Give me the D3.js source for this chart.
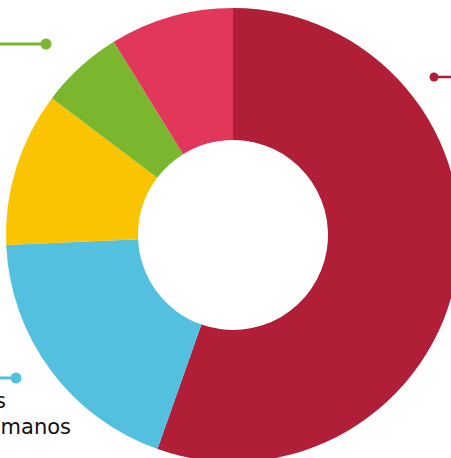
<!DOCTYPE html>
<html>
<head>
<meta charset="utf-8">
<script src="https://cdn.jsdelivr.net/npm/d3@7"></script>
<style>
html,body{margin:0;padding:0;background:#fff;overflow:hidden;}
svg{display:block;}
</style>
</head>
<body>
<svg id="chart" width="451" height="458"></svg>
<script>
const categories = ["Gastos generales", "Recursos humanos", "Inversiones", "Servicios", "Otros"];
const values = [55.4, 18.9, 11.0, 5.9, 8.8];
const colors = ["#B01E37", "#52C0DE", "#FAC400", "#7AB62E", "#E0375A"];

const svg = d3.select("#chart");
const cx = 233, cy = 235, rOuter = 227, rInner = 95;
const g = svg.append("g").attr("transform", `translate(${cx},${cy})`);

const pie = d3.pie().sort(null).value(d => d).startAngle(0).endAngle(2 * Math.PI);
const arcs = pie(values);
const arc = d3.arc().innerRadius(rInner).outerRadius(rOuter);

g.selectAll("path.slice").data(arcs).join("path")
  .attr("class", "slice")
  .attr("d", arc)
  .attr("fill", (d, i) => colors[i]);

// leader lines with dots (positions relative to the chart centre)
const leaders = [
  {i: 0, dot: [201, -158], end: [260, -158], w: 2.5, r: 4.5},
  {i: 1, dot: [-217, 143], end: [-260, 143], w: 3, r: 5.5},
  {i: 3, dot: [-187, -191], end: [-260, -191], w: 3, r: 5.5},
  {i: 4, dot: [-83, -240], end: [-83, -300], w: 3, r: 5}
];
const lg = g.append("g");
leaders.forEach(l => {
  lg.append("line")
    .attr("x1", l.dot[0]).attr("y1", l.dot[1])
    .attr("x2", l.end[0]).attr("y2", l.end[1])
    .attr("stroke", colors[l.i]).attr("stroke-width", l.w);
  lg.append("circle")
    .attr("cx", l.dot[0]).attr("cy", l.dot[1]).attr("r", l.r)
    .attr("fill", colors[l.i]);
});

// label for the blue slice (mostly outside the visible area)
const lab = g.append("text")
  .attr("font-family", "'DejaVu Sans', sans-serif")
  .attr("font-size", 21)
  .attr("fill", "#111")
  .attr("text-anchor", "end");
lab.append("tspan").attr("x", -227).attr("y", 173).text("Gastos");
lab.append("tspan").attr("x", -162).attr("y", 199).text("Recursos humanos");
</script>
</body>
</html>
